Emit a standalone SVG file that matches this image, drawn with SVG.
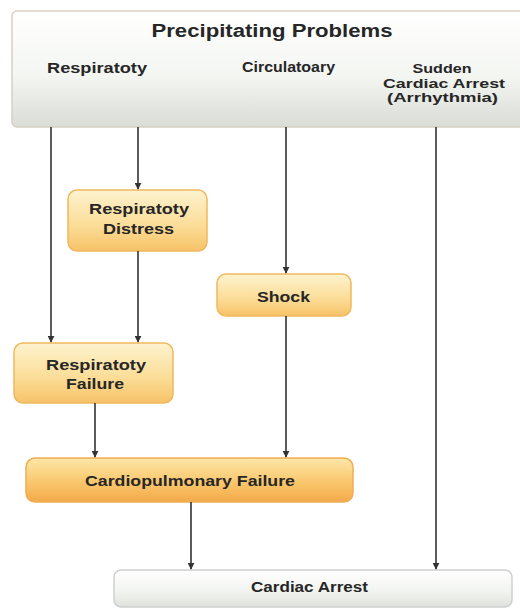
<svg xmlns="http://www.w3.org/2000/svg" width="520" height="610" viewBox="0 0 520 610">
<defs>
<linearGradient id="gTop" x1="0" y1="0" x2="0" y2="1">
<stop offset="0" stop-color="#ffffff"/>
<stop offset="0.55" stop-color="#f4f6f2"/>
<stop offset="1" stop-color="#d9ddd6"/>
</linearGradient>
<linearGradient id="gOr" x1="0" y1="0" x2="0" y2="1">
<stop offset="0" stop-color="#fdf3cf"/>
<stop offset="0.6" stop-color="#fbdc95"/>
<stop offset="1" stop-color="#f6c267"/>
</linearGradient>
<linearGradient id="gOr2" x1="0" y1="0" x2="0" y2="1">
<stop offset="0" stop-color="#fde7a8"/>
<stop offset="0.6" stop-color="#f9c468"/>
<stop offset="1" stop-color="#f3a94a"/>
</linearGradient>
<linearGradient id="gCA" x1="0" y1="0" x2="0" y2="1">
<stop offset="0" stop-color="#ffffff"/>
<stop offset="0.6" stop-color="#f1f3ef"/>
<stop offset="1" stop-color="#dfe2dc"/>
</linearGradient>
<marker id="arr" viewBox="0 0 10 10" refX="9" refY="5" markerWidth="7" markerHeight="7" orient="auto" markerUnits="userSpaceOnUse">
<path d="M0,0 L10,5 L0,10 z" fill="#333"/>
</marker>
</defs>
<style>
.t{font-family:"Liberation Sans",Arial,sans-serif;font-weight:bold;fill:#262626;text-anchor:middle}
.or{fill:url(#gOr);stroke:#f0b860;stroke-width:1.5}
.c{stroke:#333;stroke-width:1.6;fill:none;marker-end:url(#arr)}
</style>
<rect width="520" height="610" fill="#ffffff"/>
<g id="precipitating">
<rect x="12" y="11" width="530" height="116" rx="5" fill="url(#gTop)" stroke="#d8cfc4" stroke-width="1.5"/>
<text class="t" x="272" y="37" font-size="17.5" textLength="241" lengthAdjust="spacingAndGlyphs">Precipitating Problems</text>
<text class="t" x="97" y="73" font-size="15" textLength="100" lengthAdjust="spacingAndGlyphs">Respiratoty</text>
<text class="t" x="288.5" y="72" font-size="14.5" textLength="93" lengthAdjust="spacingAndGlyphs">Circulatoary</text>
<text class="t" x="442" y="73" font-size="13.5" textLength="59" lengthAdjust="spacingAndGlyphs">Sudden</text>
<text class="t" x="444" y="87.5" font-size="13.5" textLength="122" lengthAdjust="spacingAndGlyphs">Cardiac Arrest</text>
<text class="t" x="442.5" y="102" font-size="13" textLength="111" lengthAdjust="spacingAndGlyphs">(Arrhythmia)</text>
</g>
<g id="resp-distress">
<rect class="or" x="68" y="190" width="139" height="61" rx="9"/>
<text class="t" x="139" y="214" font-size="15" textLength="100" lengthAdjust="spacingAndGlyphs">Respiratoty</text>
<text class="t" x="138.5" y="234" font-size="15" textLength="71" lengthAdjust="spacingAndGlyphs">Distress</text>
</g>
<g id="shock">
<rect class="or" x="217" y="274" width="134" height="42" rx="9"/>
<text class="t" x="283.5" y="302" font-size="15" textLength="53" lengthAdjust="spacingAndGlyphs">Shock</text>
</g>
<g id="resp-failure">
<rect class="or" x="14" y="343" width="159" height="60" rx="9"/>
<text class="t" x="96" y="370" font-size="15" textLength="100" lengthAdjust="spacingAndGlyphs">Respiratoty</text>
<text class="t" x="95" y="389" font-size="15" textLength="58" lengthAdjust="spacingAndGlyphs">Failure</text>
</g>
<g id="cardiopulmonary">
<rect x="26" y="458" width="327" height="44" rx="9" fill="url(#gOr2)" stroke="#f0ad55" stroke-width="1.5"/>
<text class="t" x="190" y="486" font-size="15" textLength="210" lengthAdjust="spacingAndGlyphs">Cardiopulmonary Failure</text>
</g>
<g id="cardiac-arrest">
<rect x="114" y="570" width="398" height="37" rx="7" fill="url(#gCA)" stroke="#cfcfcf" stroke-width="1.5"/>
<text class="t" x="309.5" y="592" font-size="14.5" textLength="117" lengthAdjust="spacingAndGlyphs">Cardiac Arrest</text>
</g>
<g id="connectors">
<line class="c" x1="51" y1="127" x2="51" y2="342"/>
<line class="c" x1="138" y1="127" x2="138" y2="189"/>
<line class="c" x1="138" y1="251" x2="138" y2="342"/>
<line class="c" x1="286" y1="127" x2="286" y2="273"/>
<line class="c" x1="286" y1="316" x2="286" y2="457"/>
<line class="c" x1="95" y1="403" x2="95" y2="457"/>
<line class="c" x1="191" y1="502" x2="191" y2="569"/>
<line class="c" x1="436" y1="127" x2="436" y2="569"/>
</g>
</svg>
